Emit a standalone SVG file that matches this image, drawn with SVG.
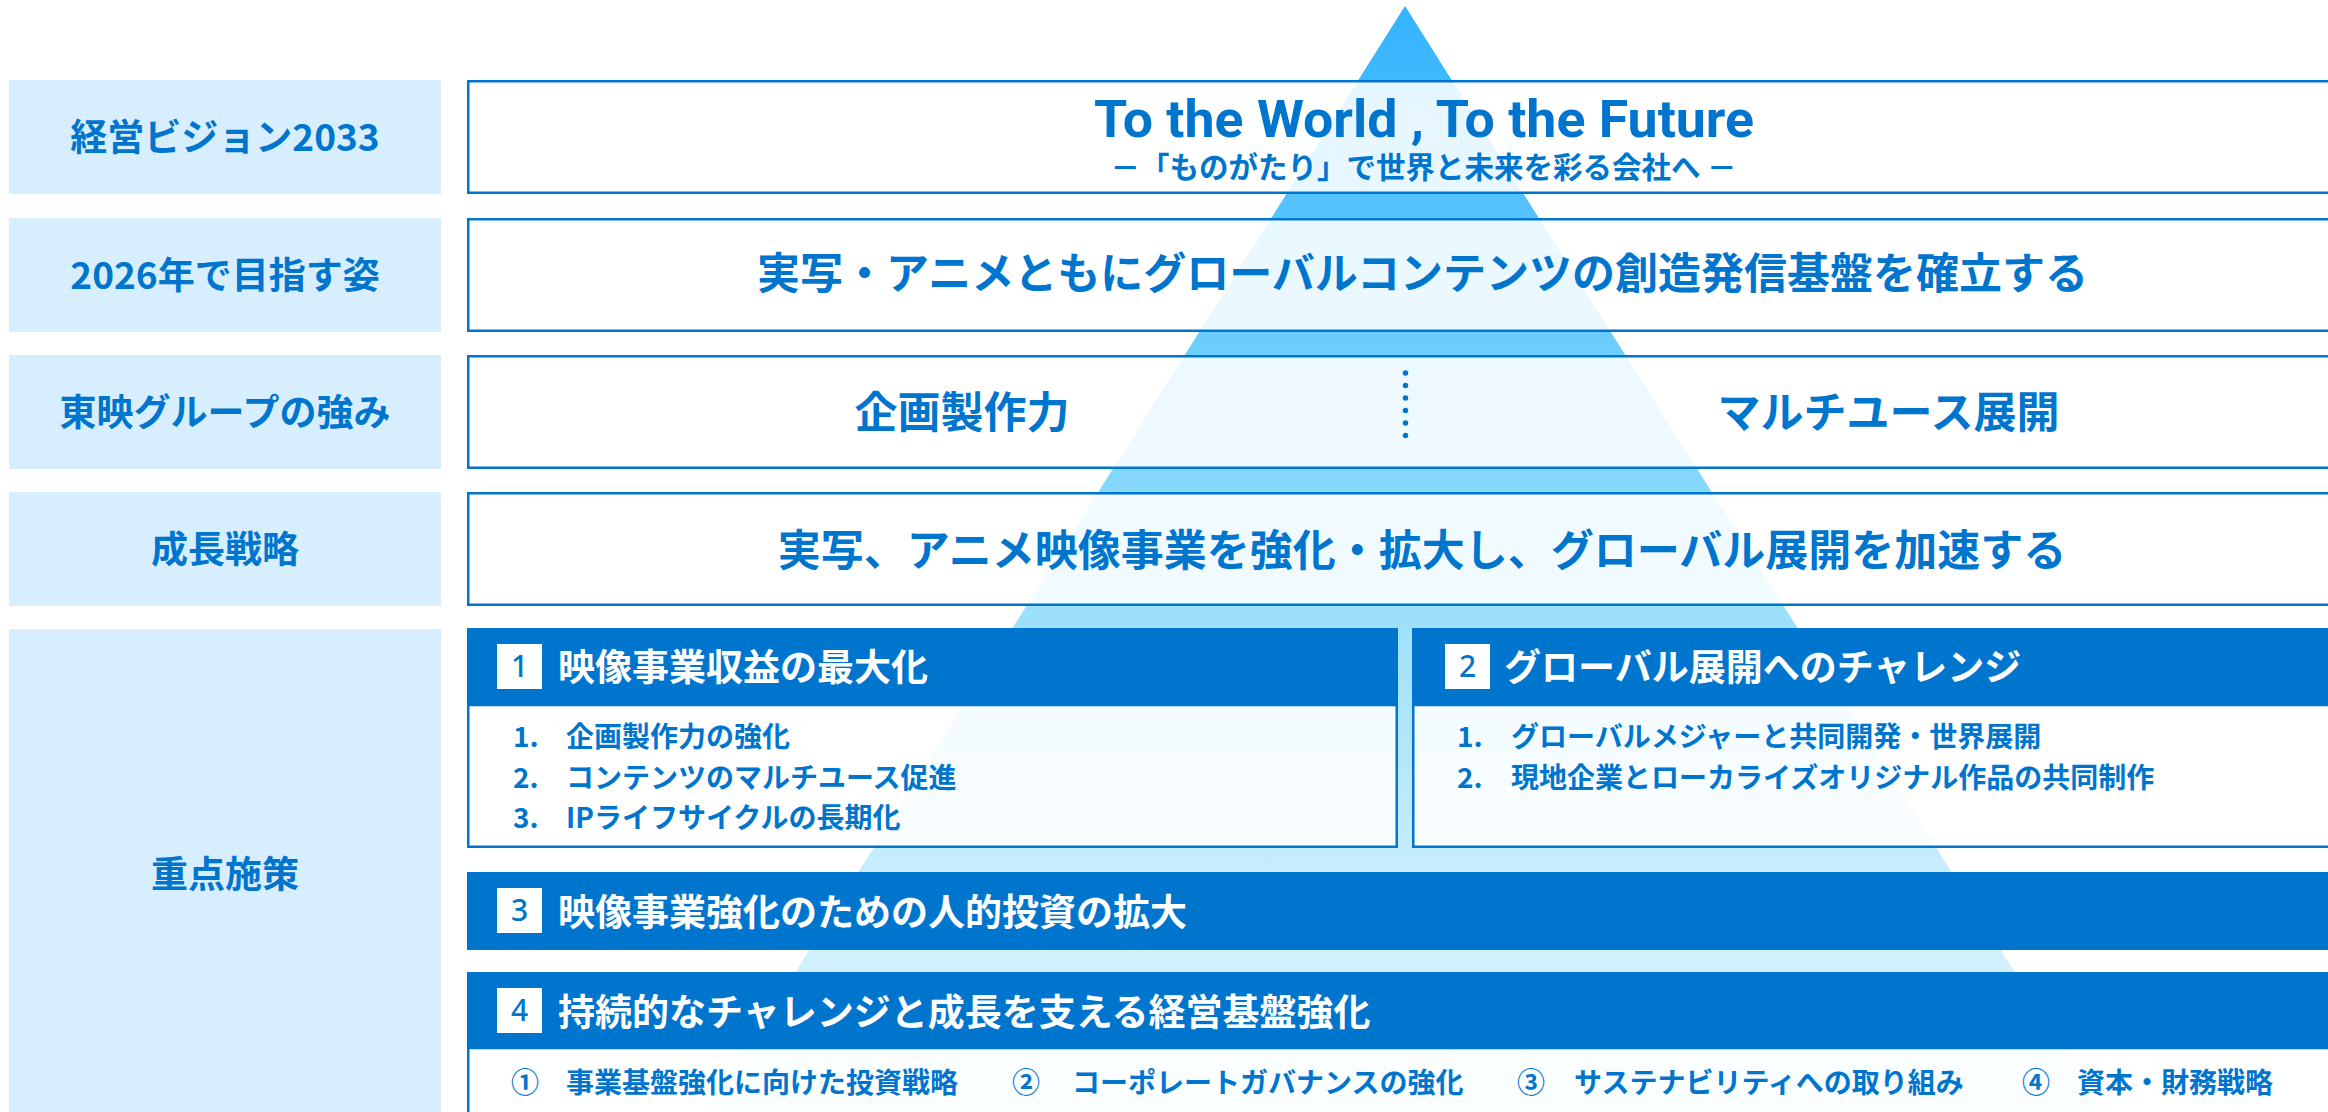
<svg xmlns="http://www.w3.org/2000/svg" width="2328" height="1112" viewBox="0 0 2328 1112">
<defs>
<linearGradient id="pyr" gradientUnits="userSpaceOnUse" x1="0" y1="6" x2="0" y2="1112">
<stop offset="0" stop-color="#33B3FF"/>
<stop offset="0.3" stop-color="#6ACDFD"/>
<stop offset="0.55" stop-color="#9DE0FB"/>
<stop offset="0.76" stop-color="#C4ECFC"/>
<stop offset="1" stop-color="#E2F6FE"/>
</linearGradient>
<style>
.lbl{fill:#D6EEFD}
.jp{font-family:"Noto Sans CJK JP","Noto Sans",sans-serif;font-weight:700;fill:#0075CE}
.lt{font-size:37px;text-anchor:middle}
.big{font-size:43px;text-anchor:middle}
.box{fill:#FFFFFF;fill-opacity:0.87;stroke:#0075CE;stroke-width:2.5}
.hdr{fill:#0075CE}
.ht{font-size:37px;fill:#FFFFFF}
.sq{fill:#FFFFFF}
.num{font-family:"Noto Sans",Roboto,sans-serif;font-weight:500;font-size:30px;fill:#0075CE;text-anchor:middle}
.it{font-size:28px}
</style>
</defs>
<rect width="2328" height="1112" fill="#FFFFFF"/>
<polygon id="pyramid" points="1405,6 707,1112 2103,1112" fill="url(#pyr)"/>

<g id="label-vision">
<rect class="lbl" x="9" y="80" width="432" height="114"/>
<text class="jp lt" x="225" y="151">経営ビジョン2033</text>
</g>
<g id="label-2026">
<rect class="lbl" x="9" y="218" width="432" height="114"/>
<text class="jp lt" x="225" y="289">2026年で目指す姿</text>
</g>
<g id="label-strength">
<rect class="lbl" x="9" y="355" width="432" height="114"/>
<text class="jp lt" x="225" y="426">東映グループの強み</text>
</g>
<g id="label-strategy">
<rect class="lbl" x="9" y="492" width="432" height="114"/>
<text class="jp lt" x="225" y="563">成長戦略</text>
</g>
<g id="label-measures">
<rect class="lbl" x="9" y="629" width="432" height="490"/>
<text class="jp lt" x="225" y="888">重点施策</text>
</g>

<g id="vision">
<rect class="box" x="468.25" y="81.25" width="1912" height="111.5"/>
<text x="1094" y="137" textLength="660" lengthAdjust="spacingAndGlyphs" font-family="Roboto,'Noto Sans',sans-serif" font-weight="700" font-size="52" fill="#0075CE">To the World , To the Future</text>
<text class="jp" x="1423.5" y="178" font-size="29.5" text-anchor="middle">－「ものがたり」で世界と未来を彩る会社へ －</text>
</g>
<g id="goal-2026">
<rect class="box" x="468.25" y="219.25" width="1912" height="111.5"/>
<text class="jp big" x="1422.5" y="289">実写・アニメともにグローバルコンテンツの創造発信基盤を確立する</text>
</g>
<g id="strengths">
<rect class="box" x="468.25" y="356.25" width="1912" height="111.5"/>
<text class="jp big" x="962" y="428">企画製作力</text>
<line x1="1405.5" y1="373" x2="1405.5" y2="448" stroke="#0075CE" stroke-width="5.5" stroke-linecap="round" stroke-dasharray="0 12.5"/>
<text class="jp big" x="1888.5" y="428">マルチユース展開</text>
</g>
<g id="strategy">
<rect class="box" x="468.25" y="493.25" width="1912" height="111.5"/>
<text class="jp big" x="1422" y="566">実写、アニメ映像事業を強化・拡大し、グローバル展開を加速する</text>
</g>

<g id="measure-1">
<rect class="box" x="468.25" y="705" width="928.5" height="141.75"/>
<rect class="hdr" x="467" y="628" width="931" height="77"/>
<rect class="sq" x="497" y="644" width="45" height="45"/>
<text class="num" x="519.5" y="677">1</text>
<text class="jp ht" x="558" y="680.5">映像事業収益の最大化</text>
<text class="jp it" x="513" y="746.5">1.</text>
<text class="jp it" x="566" y="746.5">企画製作力の強化</text>
<text class="jp it" x="513" y="787.5">2.</text>
<text class="jp it" x="566" y="787.5">コンテンツのマルチユース促進</text>
<text class="jp it" x="513" y="828">3.</text>
<text class="jp it" x="566" y="828">IPライフサイクルの長期化</text>
</g>
<g id="measure-2">
<rect class="box" x="1413.25" y="705" width="967" height="141.75"/>
<rect class="hdr" x="1412" y="628" width="969" height="77"/>
<rect class="sq" x="1445" y="644" width="45" height="45"/>
<text class="num" x="1467.5" y="677">2</text>
<text class="jp ht" x="1504" y="680.5">グローバル展開へのチャレンジ</text>
<text class="jp it" x="1457" y="746.5">1.</text>
<text class="jp it" x="1511" y="746.5">グローバルメジャーと共同開発・世界展開</text>
<text class="jp it" x="1457" y="787.5">2.</text>
<text class="jp it" x="1511" y="787.5">現地企業とローカライズオリジナル作品の共同制作</text>
</g>
<g id="measure-3">
<rect class="hdr" x="467" y="872" width="1914" height="78"/>
<rect class="sq" x="497" y="888" width="45" height="45"/>
<text class="num" x="519.5" y="921">3</text>
<text class="jp ht" x="558" y="925.5">映像事業強化のための人的投資の拡大</text>
</g>
<g id="measure-4">
<rect class="box" x="468.25" y="1048" width="1912" height="72"/>
<rect class="hdr" x="467" y="972" width="1914" height="76"/>
<rect class="sq" x="497" y="988" width="45" height="45"/>
<text class="num" x="519.5" y="1021">4</text>
<text class="jp ht" x="558" y="1025.5">持続的なチャレンジと成長を支える経営基盤強化</text>
<text class="jp it" x="511" y="1093">①</text>
<text class="jp it" x="566" y="1093">事業基盤強化に向けた投資戦略</text>
<text class="jp it" x="1012" y="1093">②</text>
<text class="jp it" x="1072" y="1093">コーポレートガバナンスの強化</text>
<text class="jp it" x="1517" y="1093">③</text>
<text class="jp it" x="1574" y="1093">サステナビリティへの取り組み</text>
<text class="jp it" x="2022" y="1093">④</text>
<text class="jp it" x="2077" y="1093">資本・財務戦略</text>
</g>
</svg>
